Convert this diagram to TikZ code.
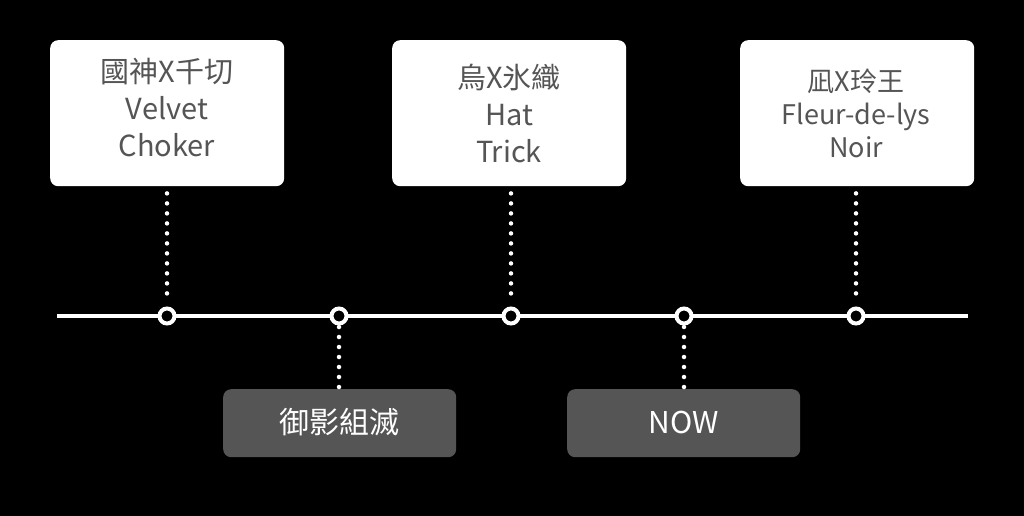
\documentclass[tikz,border=0pt]{standalone}
\usepackage{fontspec}
\setmainfont{Noto Sans CJK TC}
\definecolor{txtgray}{HTML}{555555}
\definecolor{boxgray}{HTML}{555555}
\begin{document}
\begin{tikzpicture}[x=1pt,y=-1pt,
  topbox/.style={draw=none,fill=white,rounded corners=8pt,minimum width=234pt,minimum height=146pt,anchor=north west,inner sep=0pt},
  botbox/.style={draw=none,fill=boxgray,rounded corners=8pt,minimum width=233pt,minimum height=68pt,anchor=north west,inner sep=0pt},
  toptext/.style={text=txtgray,font=\fontsize{29}{37}\selectfont,align=center},
  bottext/.style={text=white,font=\fontsize{30}{34}\selectfont,align=center},
  dots/.style={white,line width=4.5pt,line cap=round,dash pattern=on 0pt off 10pt},
  ring/.style={circle,draw=white,line width=4pt,fill=black,minimum size=15pt,inner sep=0pt}]
\fill[black] (0,0) rectangle (1024,516);
\useasboundingbox (0,0) rectangle (1024,516);
% top boxes
\node[topbox] (b1) at (50,40) {};
\node[topbox] (b2) at (392,40) {};
\node[topbox] (b3) at (740,40) {};
\node[toptext] (t1) at (167,108) {國神X千切\\Velvet\\Choker};
\node[toptext] (t2) at (509,113) {烏X氷織\\Hat\\Trick};
\node[toptext,font=\fontsize{27}{33}\selectfont] (t3) at (856,113) {凪X玲王\\Fleur-de-lys\\Noir};
% bottom boxes
\node[botbox] (d1) at (223,389) {};
\node[botbox] (d2) at (567,389) {};
\node[bottext] (u1) at (339,422) {御影組滅};
\node[bottext] (u2) at (684,422) {NOW};
% timeline
\coordinate (L) at (57,316);
\coordinate (R) at (968,316);
\draw[white,line width=4.5pt] (L) -- (R);
\node[ring] (c1) at (167,316) {};
\node[ring] (c2) at (339,316) {};
\node[ring] (c3) at (511,316) {};
\node[ring] (c4) at (684,316) {};
\node[ring] (c5) at (856,316) {};
% connectors
\draw[dots] ([yshift=-7pt]b1.south -| c1) -- ([yshift=13pt]c1.center);
\draw[dots] ([yshift=-7pt]b2.south -| c3) -- ([yshift=13pt]c3.center);
\draw[dots] ([yshift=-7pt]b3.south -| c5) -- ([yshift=13pt]c5.center);
\draw[dots] ([yshift=-11pt]c2.center) -- ([yshift=1pt]d1.north -| c2);
\draw[dots] ([yshift=-11pt]c4.center) -- ([yshift=1pt]d2.north -| c4);
\end{tikzpicture}
\end{document}
